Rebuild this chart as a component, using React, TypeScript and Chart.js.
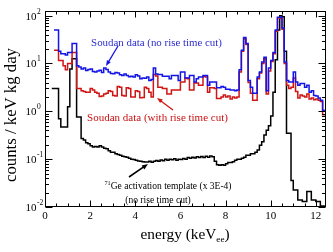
import React, { useEffect, useRef } from "react";
import { Chart, registerables } from "chart.js";

Chart.register(...registerables);

// ---- data ----
const BIN_START = 0.3; // keV, lower edge of first bin
const BIN_WIDTH = 0.1; // keV
const X_MIN = 0;
const X_MAX = 12.45;
const Y_MIN = 0.01;
const Y_MAX = 125;

const blueValues: (number | null)[] = [
  null, 50, 50, 18, 16, 16, 15, 17, 17, 26,
  26, 9, 8.4, 7.7, 8.0, 7.1, 7.5, 7.7, 6.8, 6.6,
  7.0, 7.2, 6.5, 8.0, 7.5, 6.6, 6.2, 6.1, 6.5, 6.3,
  5.8, 5.6, 6.0, 5.6, 5.3, 5.4, 5.2, 5.8, 5.5, 4.8,
  5.0, 4.9, 5.2, 4.4, 4.6, 8.0, 6.0, 5.9, 5.9, 5.4,
  5.4, 5.4, 4.8, 5.6, 5.6, 5.6, 4.4, 6.6, 6.6, 5.0,
  5.0, 5.6, 5.6, 4.1, 4.8, 5.2, 5.2, 5.6, 5.6, 3.5,
  4.1, 4.1, 4.1, 3.1, 3.1, 3.3, 3.2, 2.9, 2.9, 2.8,
  2.8, 2.7, 2.8, 7.4, 19, 35, 26, 4.4, 3.2, 2.4,
  2.4, 5.2, 6.6, 10.7, 13.5, 2.7, 8, 11.5, 17, 50,
  92, 92, 55, 10.7, 4.4, 4.1, 4.1, 6.6, 4.1, 3.5,
  3.8, 3.8, 3.2, 3.5, 2.5, 2.7, 2.15, 2.1, 1.9, 1.7,
  1.05,
];

const redValues: (number | null)[] = [
  null, 19, 19, 11.5, 11.5, 9, 7.4, 10, 10, 17,
  17, 3.0, 3.0, 2.7, 2.6, 2.5, 2.5, 3.0, 2.8, 2.5,
  2.4, 2.05, 2.1, 2.3, 2.4, 2.7, 2.6, 2.15, 2.1, 3.3,
  3.2, 2.15, 2.1, 3.1, 3.0, 2.0, 2.0, 2.7, 2.6, 1.93,
  1.95, 3.2, 3.0, 2.5, 2.0, 5.9, 5.5, 3.2, 3.2, 3.0,
  3.0, 2.3, 2.3, 2.8, 2.8, 2.8, 2.8, 4.1, 4.1, 5.0,
  4.8, 2.8, 2.8, 3.9, 3.9, 3.5, 3.5, 5.4, 5.2, 2.5,
  3.1, 3.1, 3.0, 1.85, 1.85, 2.0, 2.2, 2.0, 2.1, 1.8,
  2.0, 1.9, 2.0, 6.6, 18, 33, 25, 4.0, 2.4, 1.7,
  1.7, 4.8, 6.3, 10, 12.5, 2.3, 7, 11, 16, 47,
  90, 88, 52, 10, 3.5, 3.0, 3.2, 5.0, 2.6, 1.9,
  2.2, 2.1, 2.0, 2.3, 1.8, 1.9, 1.75, 1.8, 1.7, 1.6,
  0.85,
];

const templateValues: number[] = [
  3.0, 3.0, 3.0, 0.7, 0.47, 0.47, 0.47, 1.25, 7.7, 12.5,
  12.5, 0.76, 0.76, 0.27, 0.25, 0.22, 0.21, 0.19, 0.18, 0.185,
  0.18, 0.19, 0.18, 0.17, 0.165, 0.15, 0.14, 0.14, 0.13, 0.125,
  0.12, 0.115, 0.112, 0.11, 0.105, 0.1, 0.098, 0.095, 0.092, 0.09,
  0.088, 0.087, 0.087, 0.09, 0.086, 0.09, 0.094, 0.09, 0.096, 0.093,
  0.1, 0.095, 0.1, 0.097, 0.102, 0.095, 0.1, 0.098, 0.103, 0.1,
  0.108, 0.104, 0.11, 0.106, 0.112, 0.108, 0.114, 0.108, 0.115, 0.11,
  0.116, 0.112, 0.09, 0.076, 0.075, 0.076, 0.075, 0.08, 0.085, 0.085,
  0.088, 0.095, 0.1, 0.1, 0.105, 0.11, 0.12, 0.12, 0.13, 0.13,
  0.14, 0.155, 0.195, 0.23, 0.32, 0.4, 0.5, 0.8, 2.5, 12,
  50, 100, 95, 18, 0.35, 0.35, 0.036, 0.0226, 0.0226, 0.014,
  0.014, 0.013, 0.013, 0.021, 0.021, 0.014, 0.014, 0.013, 0.013, 0.0105,
  0.0105,
];

const xTickValues = [0, 2, 4, 6, 8, 10, 12];
const xTickLabels = ["0", "2", "4", "6", "8", "10", "12"];
const yTickExponents = [-2, -1, 0, 1, 2];
const yTickLabels = ["-2", "-1", "0", "1", "2"];

const BLUE = "#1414e6";
const RED = "#d01515";
const BLACK = "#000000";
const FONT = "'Liberation Serif', 'DejaVu Serif', serif";

function toHistPoints(values: (number | null)[]) {
  const pts: { x: number; y: number | null }[] = values.map((v, i) => ({
    x: +(BIN_START + i * BIN_WIDTH).toFixed(3),
    y: v,
  }));
  pts.push({
    x: +(BIN_START + values.length * BIN_WIDTH).toFixed(3),
    y: values[values.length - 1],
  });
  return pts;
}

function fitSize(ctx: CanvasRenderingContext2D, text: string, target: number) {
  ctx.font = `20px ${FONT}`;
  const w = ctx.measureText(text).width;
  return (20 * target) / w;
}

function drawArrow(
  ctx: CanvasRenderingContext2D,
  x1: number, y1: number, x2: number, y2: number,
  color: string, lw: number, head: number
) {
  const ang = Math.atan2(y2 - y1, x2 - x1);
  ctx.save();
  ctx.strokeStyle = color;
  ctx.fillStyle = color;
  ctx.lineWidth = lw;
  ctx.beginPath();
  ctx.moveTo(x1, y1);
  ctx.lineTo(x2 - Math.cos(ang) * head * 0.6, y2 - Math.sin(ang) * head * 0.6);
  ctx.stroke();
  ctx.beginPath();
  ctx.moveTo(x2, y2);
  ctx.lineTo(x2 - head * Math.cos(ang - 0.38), y2 - head * Math.sin(ang - 0.38));
  ctx.lineTo(x2 - head * Math.cos(ang + 0.38), y2 - head * Math.sin(ang + 0.38));
  ctx.closePath();
  ctx.fill();
  ctx.restore();
}

const overlayPlugin = {
  id: "overlay",
  afterDraw(chart: any) {
    const { ctx, chartArea: a } = chart;
    const xs = chart.scales.x;
    const ys = chart.scales.y;
    ctx.save();
    const L = Math.round(a.left) + 0.5;
    const R = Math.round(a.right) - 0.5;
    const T = Math.round(a.top) + 0.5;
    const B = Math.round(a.bottom) - 0.5;
    ctx.strokeStyle = BLACK;
    ctx.lineWidth = 1;
    ctx.strokeRect(L, T, R - L, B - T);

    const seg = (x1: number, y1: number, x2: number, y2: number) => {
      ctx.beginPath();
      ctx.moveTo(x1, y1);
      ctx.lineTo(x2, y2);
      ctx.stroke();
    };

    // x ticks (major every 2, minor every 0.5), bottom and top, pointing inward
    for (let k = 0; k <= 24; k++) {
      const v = k * 0.5;
      const px = Math.round(xs.getPixelForValue(v)) + 0.5;
      if (px > R) continue;
      const len = k % 4 === 0 ? 6 : 3;
      seg(px, B, px, B - len);
      seg(px, T, px, T + len);
    }
    // y ticks (log), left and right
    for (let d = -2; d <= 2; d++) {
      for (let m = 1; m <= 9; m++) {
        const v = m * Math.pow(10, d);
        if (v > ys.max || v < ys.min) continue;
        const py = Math.round(ys.getPixelForValue(v)) + 0.5;
        const len = m === 1 ? 7 : 3.5;
        seg(L, py, L + len, py);
        seg(R, py, R - len, py);
      }
    }

    // tick labels
    ctx.fillStyle = BLACK;
    ctx.font = `11px ${FONT}`;
    ctx.textAlign = "center";
    ctx.textBaseline = "middle";
    xTickValues.forEach((v, i) => {
      const px = xs.getPixelForValue(v);
      ctx.fillText(xTickLabels[i], px, a.bottom + 9);
    });
    yTickExponents.forEach((e, i) => {
      const py = ys.getPixelForValue(Math.pow(10, e));
      ctx.font = `11px ${FONT}`;
      ctx.textAlign = "right";
      ctx.fillText("10", a.left - 8.5, py + 1);
      ctx.font = `7.5px ${FONT}`;
      ctx.textAlign = "left";
      ctx.fillText(yTickLabels[i], a.left - 8, py - 4);
    });

    // axis titles
    const yTitle = "counts / keV kg day";
    const ySize = fitSize(ctx, yTitle, 134);
    ctx.save();
    ctx.translate(12, 115);
    ctx.rotate(-Math.PI / 2);
    ctx.font = `${ySize}px ${FONT}`;
    ctx.textAlign = "center";
    ctx.textBaseline = "middle";
    ctx.fillText(yTitle, 0, 0);
    ctx.restore();

    const xMain = "energy (keV";
    const xSize = fitSize(ctx, xMain, 76);
    ctx.font = `${xSize}px ${FONT}`;
    const w1 = ctx.measureText(xMain).width;
    ctx.font = `${xSize * 0.6}px ${FONT}`;
    const wSub = ctx.measureText("ee").width;
    ctx.font = `${xSize}px ${FONT}`;
    const w2 = ctx.measureText(")").width;
    let sx = 185 - (w1 + wSub + w2) / 2;
    ctx.textAlign = "left";
    ctx.textBaseline = "alphabetic";
    ctx.fillText(xMain, sx, 239);
    sx += w1;
    ctx.font = `${xSize * 0.6}px ${FONT}`;
    ctx.fillText("ee", sx, 242);
    sx += wSub;
    ctx.font = `${xSize}px ${FONT}`;
    ctx.fillText(")", sx, 239);

    // annotations
    ctx.textAlign = "center";
    ctx.textBaseline = "middle";
    const blueText = "Soudan data (no rise time cut)";
    ctx.font = `${fitSize(ctx, blueText, 131)}px ${FONT}`;
    ctx.fillStyle = "#2b2bd0";
    ctx.fillText(blueText, 156.5, 43);

    const redText = "Soudan data (with rise time cut)";
    ctx.font = `${fitSize(ctx, redText, 141)}px ${FONT}`;
    ctx.fillStyle = "#c81010";
    ctx.fillText(redText, 157.5, 118);

    const blackText = "Ge activation template (x 3E-4)";
    const bSize = fitSize(ctx, blackText, 121);
    ctx.font = `${bSize * 0.65}px ${FONT}`;
    const wSup = ctx.measureText("71").width;
    ctx.font = `${bSize}px ${FONT}`;
    const wB = ctx.measureText(blackText).width;
    const bx = 168 - (wSup + wB) / 2;
    ctx.fillStyle = BLACK;
    ctx.textAlign = "left";
    ctx.font = `${bSize * 0.65}px ${FONT}`;
    ctx.fillText("71", bx, 183);
    ctx.font = `${bSize}px ${FONT}`;
    ctx.fillText(blackText, bx + wSup, 186);
    ctx.textAlign = "center";
    ctx.fillText("(no rise time cut)", 158, 200);

    drawArrow(ctx, 118, 46, 106, 66, BLUE, 1.3, 6);
    drawArrow(ctx, 173, 110, 157, 98, RED, 1.3, 6);
    drawArrow(ctx, 129, 177, 148, 164, BLACK, 1.6, 6.5);

    ctx.restore();
  },
};

export default function App() {
  const canvasRef = useRef<HTMLCanvasElement | null>(null);

  useEffect(() => {
    document.body.style.margin = "0";
    const canvas = canvasRef.current;
    if (!canvas) return;
    const chart = new Chart(canvas, {
      type: "line",
      data: {
        datasets: [
          {
            label: "Soudan data (no rise time cut)",
            data: toHistPoints(blueValues) as any,
            borderColor: BLUE,
            borderWidth: 1.5,
            stepped: "before",
            pointRadius: 0,
            fill: false,
            spanGaps: false,
          },
          {
            label: "Soudan data (with rise time cut)",
            data: toHistPoints(redValues) as any,
            borderColor: RED,
            borderWidth: 1.5,
            stepped: "before",
            pointRadius: 0,
            fill: false,
            spanGaps: false,
          },
          {
            label: "71Ge activation template (x 3E-4)",
            data: toHistPoints(templateValues) as any,
            borderColor: BLACK,
            borderWidth: 1.5,
            stepped: "before",
            pointRadius: 0,
            fill: false,
          },
        ],
      },
      options: {
        responsive: false,
        animation: false,
        devicePixelRatio: 1,
        layout: { padding: { left: 45, right: 7, top: 11, bottom: 45 } },
        plugins: {
          legend: { display: false },
          tooltip: { enabled: false },
          title: { display: false },
        },
        scales: {
          x: { type: "linear", min: X_MIN, max: X_MAX, display: false },
          y: { type: "logarithmic", min: Y_MIN, max: Y_MAX, display: false },
        },
      },
      plugins: [overlayPlugin],
    });
    return () => chart.destroy();
  }, []);

  return (
    <div style={{ position: "absolute", left: 0, top: 0, width: 333, height: 252, background: "#fff" }}>
      <canvas ref={canvasRef} width={333} height={252} style={{ width: 333, height: 252, display: "block" }} />
    </div>
  );
}
